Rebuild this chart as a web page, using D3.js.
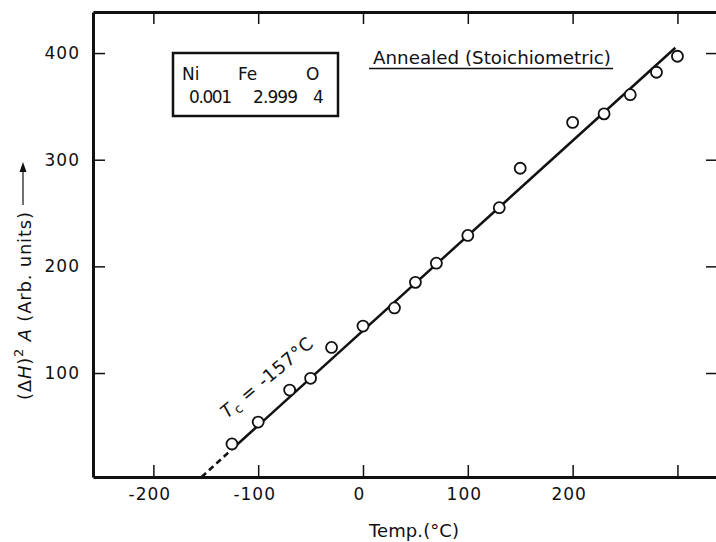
<!DOCTYPE html>
<html lang="en">
<meta charset="utf-8">
<head>
    <script src='https://d3js.org/d3.v7.min.js'></script>
    <style>
        body { margin: 0; background: #fff; }
        text { font-family: 'DejaVu Sans', sans-serif; fill: #111; }
    </style>
</head>
<body>
</body>

<script>
    var width = 716, height = 542;

    // data
    var temps  = [-125, -100, -70, -50, -30, 0, 30, 50, 70, 100, 130, 150, 200, 230, 255, 280, 300];
    var values = [33.5, 54, 84, 95, 124, 144, 161, 185, 203, 229, 255, 292, 335, 343, 361, 382, 397];
    // fitted straight line, solid part and dashed extrapolation down to Tc
    var fitTemps = [-125, 298], fitValues = [28.5, 405];
    var dashTemps = [-154, -125], dashValues = [2.5, 28.5];
    var xTicks = [-200, -100, 0, 100, 200, 300];
    var xLabels = [-200, -100, 0, 100, 200];
    var yTicks = [100, 200, 300, 400];

    var svg = d3.select('body').append('svg').attr('width', width).attr('height', height);

    var x = d3.scaleLinear().domain([-257.6, 338.7]).range([93, 718]);
    var y = d3.scaleLinear().domain([2.5, 438.5]).range([477, 12]);

    // bottom axis
    var gx = svg.append('g').attr('transform', 'translate(0,477)')
        .call(d3.axisBottom(x).tickValues(xTicks).tickSizeInner(-12).tickSizeOuter(0).tickPadding(11)
            .tickFormat(function(d) { return xLabels.indexOf(d) >= 0 ? (d < 0 ? '-' + (-d) : d) : ''; }));
    // top frame
    var gt = svg.append('g').attr('transform', 'translate(0,12)')
        .call(d3.axisTop(x).tickValues(xTicks).tickSizeInner(-12).tickSizeOuter(0).tickFormat(''));
    // left axis
    var gy = svg.append('g').attr('transform', 'translate(93,0)')
        .call(d3.axisLeft(y).tickValues(yTicks).tickSizeInner(-12).tickSizeOuter(0).tickPadding(13));
    // right frame
    var gr = svg.append('g').attr('transform', 'translate(718,0)')
        .call(d3.axisRight(y).tickValues(yTicks).tickSizeInner(-12).tickSizeOuter(0).tickFormat(''));

    [gx, gt, gy, gr].forEach(function(g) {
        g.select('.domain').attr('stroke', '#111').attr('stroke-width', 3);
        g.selectAll('.tick line').attr('stroke', '#111').attr('stroke-width', 1.5);
        g.selectAll('.tick text').attr('font-size', 17).attr('letter-spacing', 1)
            .attr('font-family', "'DejaVu Sans', sans-serif").attr('fill', '#111');
    });
    gx.selectAll('.tick text').attr('dx', -4);

    // fitted line
    var line = d3.line().x(function(d) { return x(d[0]); }).y(function(d) { return y(d[1]); });
    svg.append('path').datum(d3.zip(dashTemps, dashValues)).attr('d', line)
        .attr('fill', 'none').attr('stroke', '#111').attr('stroke-width', 2.5).attr('stroke-dasharray', '6,4');
    svg.append('path').datum(d3.zip(fitTemps, fitValues)).attr('d', line)
        .attr('fill', 'none').attr('stroke', '#111').attr('stroke-width', 2.5);

    // measured points
    svg.selectAll('circle').data(d3.zip(temps, values)).join('circle')
        .attr('cx', function(d) { return x(d[0]); })
        .attr('cy', function(d) { return y(d[1]); })
        .attr('r', 5.5)
        .attr('fill', '#fff').attr('stroke', '#111').attr('stroke-width', 1.8);

    // composition box
    svg.append('rect').attr('x', 173).attr('y', 53).attr('width', 165).attr('height', 63)
        .attr('fill', 'none').attr('stroke', '#111').attr('stroke-width', 2.5);
    var box = svg.append('g').attr('font-size', 17);
    box.append('text').attr('x', 182).attr('y', 80).text('Ni');
    box.append('text').attr('x', 238).attr('y', 80).text('Fe');
    box.append('text').attr('x', 306).attr('y', 80).text('O');
    box.append('text').attr('x', 189).attr('y', 103).attr('textLength', 43).text('0.001');
    box.append('text').attr('x', 253).attr('y', 103).attr('textLength', 45).text('2.999');
    box.append('text').attr('x', 313).attr('y', 103).text('4');

    // sample label
    svg.append('text').attr('x', 373).attr('y', 64).attr('font-size', 17)
        .attr('textLength', 238).attr('lengthAdjust', 'spacingAndGlyphs').text('Annealed (Stoichiometric)');
    svg.append('line').attr('x1', 369).attr('x2', 613).attr('y1', 68.5).attr('y2', 68.5)
        .attr('stroke', '#111').attr('stroke-width', 1.5);

    // Tc label along the line
    var tc = svg.append('text').attr('font-size', 18).attr('textLength', 114)
        .attr('transform', 'translate(227,419) rotate(-40)');
    tc.append('tspan').attr('font-style', 'italic').text('T');
    tc.append('tspan').attr('font-size', 13).attr('dy', 4).text('c');
    tc.append('tspan').attr('dy', -4).text(' = -157°C');

    // axis titles
    svg.append('text').attr('x', 369).attr('y', 537).attr('font-size', 18)
        .attr('textLength', 90).text('Temp.(°C)');

    var yl = svg.append('text').attr('font-size', 18).attr('text-anchor', 'middle')
        .attr('textLength', 188)
        .attr('transform', 'translate(31,306) rotate(-90)');
    yl.append('tspan').text('(Δ');
    yl.append('tspan').attr('font-style', 'italic').text('H');
    yl.append('tspan').text(')');
    yl.append('tspan').attr('font-size', 13).attr('dy', -8).text('2');
    yl.append('tspan').attr('dy', 8).text(' ');
    yl.append('tspan').attr('font-style', 'italic').text('A');
    yl.append('tspan').text(' (Arb. units)');

    // arrow after the y title
    svg.append('line').attr('x1', 23).attr('x2', 23).attr('y1', 205).attr('y2', 170)
        .attr('stroke', '#111').attr('stroke-width', 1.2);
    svg.append('path').attr('d', 'M23,162 L19.5,172 L26.5,172 Z').attr('fill', '#111');
</script>
